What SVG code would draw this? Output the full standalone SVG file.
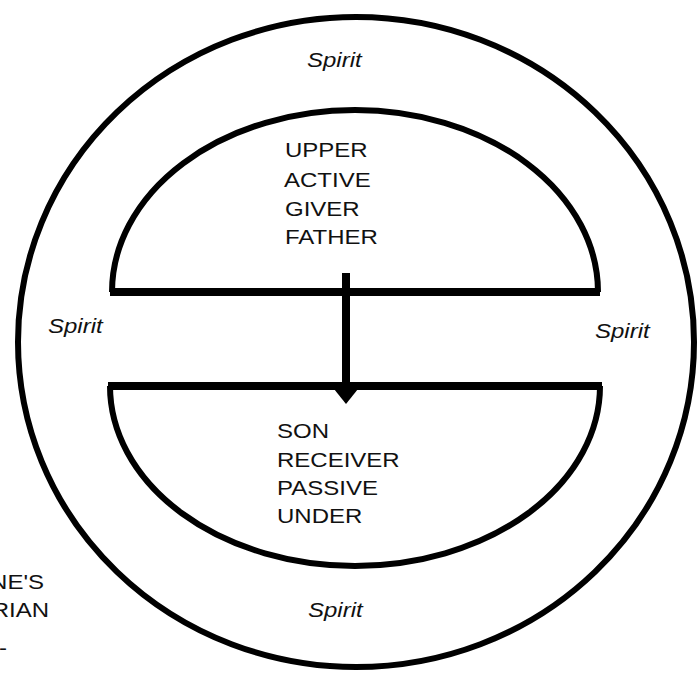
<svg xmlns="http://www.w3.org/2000/svg" width="698" height="673" viewBox="0 0 698 673">
<style>
.ln{fill:none;stroke:#000;stroke-linecap:butt}
.t{font-family:"Liberation Sans",Arial,sans-serif;font-size:20px;fill:#111}
.s{font-family:"Liberation Sans",Arial,sans-serif;font-size:20px;font-style:italic;fill:#111}
</style>
<rect width="698" height="673" fill="#fff"/>
<g id="outer">
<ellipse class="ln" cx="356" cy="342" rx="338" ry="325" stroke-width="6"/>
</g>
<g id="upper">
<path class="ln" d="M112,292 A243,182 0 0 1 598,292" stroke-width="6"/>
<line class="ln" x1="110" y1="292" x2="600" y2="292" stroke-width="8"/>
<text class="t" transform="matrix(1.2 0 0 1 285 157)">UPPER</text>
<text class="t" transform="matrix(1.2 0 0 1 284 187)">ACTIVE</text>
<text class="t" transform="matrix(1.2 0 0 1 285 216)">GIVER</text>
<text class="t" transform="matrix(1.2 0 0 1 285 244)">FATHER</text>
</g>
<g id="lower">
<path class="ln" d="M110,386 A245,180 0 0 0 600,386" stroke-width="6"/>
<line class="ln" x1="108" y1="386" x2="602" y2="386" stroke-width="8"/>
<text class="t" transform="matrix(1.2 0 0 1 277 438)">SON</text>
<text class="t" transform="matrix(1.2 0 0 1 277 467)">RECEIVER</text>
<text class="t" transform="matrix(1.2 0 0 1 277 495)">PASSIVE</text>
<text class="t" transform="matrix(1.2 0 0 1 277 523)">UNDER</text>
</g>
<g id="connectors">
<line class="ln" x1="346" y1="273" x2="346" y2="392" stroke-width="8"/>
<polygon points="334,389 358,389 346,404" fill="#000"/>
</g>
<g id="labels">
<text class="s" transform="matrix(1.2 0 0 1 307 67)">Spirit</text>
<text class="s" transform="matrix(1.2 0 0 1 48 333)">Spirit</text>
<text class="s" transform="matrix(1.2 0 0 1 595 338)">Spirit</text>
<text class="s" transform="matrix(1.2 0 0 1 308 617)">Spirit</text>
<text class="t" text-anchor="end" transform="matrix(1.2 0 0 1 44 589)">NE'S</text>
<text class="t" text-anchor="end" transform="matrix(1.2 0 0 1 49 617)">RIAN</text>
<text class="t" transform="matrix(1.2 0 0 1 -1 655)">-</text>
</g>
</svg>
